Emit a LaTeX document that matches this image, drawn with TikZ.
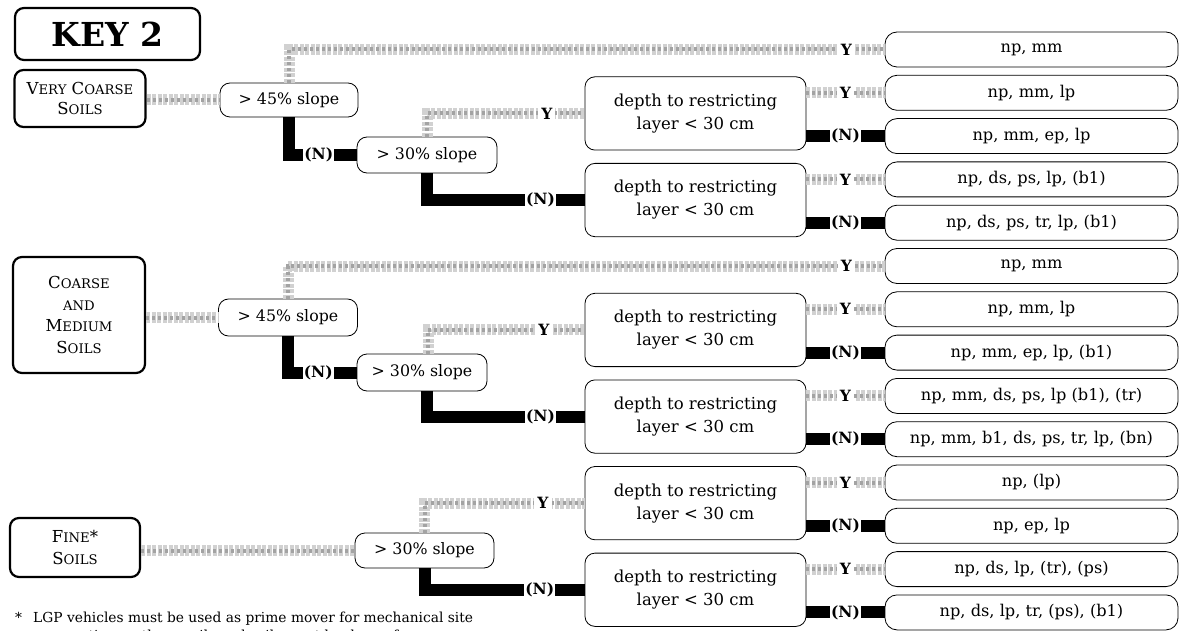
\documentclass[tikz,border=0pt]{standalone}
\usepackage{fontspec}
\setmainfont{DejaVu Serif}
\usetikzlibrary{calc}
\newcommand\smc[1]{{\fontsize{13.2}{13}\selectfont #1}}
\begin{document}
\begin{tikzpicture}[x=1pt,y=-1pt,
  soilbox/.style={draw, line width=2.2pt, rounded corners=9pt, align=center, inner sep=0pt},
  qbox/.style={draw, line width=0.8pt, rounded corners=10pt, align=center, inner sep=0pt, font=\fontsize{15.8}{23}\selectfont},
  depthbox/.style={qbox, minimum width=221pt, minimum height=73.3pt, font=\fontsize{16.5}{23}\selectfont},
  resbox/.style={draw, line width=0.8pt, rounded corners=12pt, minimum width=293pt, minimum height=35pt, inner sep=0pt, font=\fontsize{16.2}{18}\selectfont},
  yes/.style={line width=11pt, draw=black!18, dash pattern=on 4pt off 1.5pt,
     postaction={draw=black!36, line width=4pt, dash pattern=on 3pt off 3pt}},
  no/.style={line width=12pt, draw=black},
  ylab/.style={fill=white, inner xsep=3pt, inner ysep=1pt, font=\bfseries\fontsize{15.5}{15}\selectfont},
  nlab/.style={fill=white, inner xsep=1pt, inner ysep=1pt, font=\bfseries\fontsize{15.5}{15}\selectfont},
  notetext/.style={anchor=base west, inner sep=0pt, font=\fontsize{13.8}{16}\selectfont},
]
\useasboundingbox (0,0) rectangle (1183,631);

% left column
\node[soilbox, minimum width=185pt, minimum height=52pt, font=\bfseries\fontsize{33}{33}\selectfont] (key) at (107.5,34) {KEY 2};
\node[soilbox, minimum width=131pt, minimum height=57pt, font=\fontsize{16.5}{20}\selectfont] (vc) at (80,98.5) {V\smc{ERY} C\smc{OARSE}\\S\smc{OILS}};
\node[soilbox, minimum width=132pt, minimum height=116pt, font=\fontsize{16.5}{21.7}\selectfont] (cm) at (79,315) {C\smc{OARSE}\\\smc{AND}\\M\smc{EDIUM}\\S\smc{OILS}};
\node[soilbox, minimum width=130pt, minimum height=59pt, font=\fontsize{16.5}{21.7}\selectfont] (fine) at (75,547.5) {F\smc{INE}*\\S\smc{OILS}};

% slope boxes
\node[qbox, minimum width=138pt, minimum height=34pt] (vc45) at (289,100) {> 45\% slope};
\node[qbox, minimum width=140pt, minimum height=36pt] (vc30) at (427,155) {> 30\% slope};
\node[qbox, minimum width=139pt, minimum height=37pt] (cm45) at (288,317.5) {> 45\% slope};
\node[qbox, minimum width=130pt, minimum height=37pt] (cm30) at (422,372.5) {> 30\% slope};
\node[qbox, minimum width=139pt, minimum height=35pt] (fine30) at (424.5,550.5) {> 30\% slope};

% depth boxes
\node[depthbox] (vcd1) at (695.5,113.45) {depth to restricting\\layer < 30 cm};
\node[depthbox] (vcd2) at (695.5,200.05) {depth to restricting\\layer < 30 cm};
\node[depthbox] (cmd1) at (695.5,329.95) {depth to restricting\\layer < 30 cm};
\node[depthbox] (cmd2) at (695.5,416.55) {depth to restricting\\layer < 30 cm};
\node[depthbox] (fd1) at (695.5,503.15) {depth to restricting\\layer < 30 cm};
\node[depthbox] (fd2) at (695.5,589.75) {depth to restricting\\layer < 30 cm};

% result boxes
\node[resbox] (r0) at (1031.5,49.5) {np, mm};
\node[resbox] (r1) at (1031.5,92.8) {np, mm, lp};
\node[resbox] (r2) at (1031.5,136.1) {np, mm, ep, lp};
\node[resbox] (r3) at (1031.5,179.4) {np, ds, ps, lp, (b1)};
\node[resbox] (r4) at (1031.5,222.7) {np, ds, ps, tr, lp, (b1)};
\node[resbox] (r5) at (1031.5,266.0) {np, mm};
\node[resbox] (r6) at (1031.5,309.3) {np, mm, lp};
\node[resbox] (r7) at (1031.5,352.6) {np, mm, ep, lp, (b1)};
\node[resbox] (r8) at (1031.5,395.9) {np, mm, ds, ps, lp (b1), (tr)};
\node[resbox] (r9) at (1031.5,439.2) {np, mm, b1, ds, ps, tr, lp, (bn)};
\node[resbox] (r10) at (1031.5,482.5) {np, (lp)};
\node[resbox] (r11) at (1031.5,525.8) {np, ep, lp};
\node[resbox] (r12) at (1031.5,569.1) {np, ds, lp, (tr), (ps)};
\node[resbox] (r13) at (1031.5,612.4) {np, ds, lp, tr, (ps), (b1)};

% footnote
\node[notetext] (star) at (15,622) {*};
\node[notetext] (note1) at (33,622) {LGP vehicles must be used as prime mover for mechanical site};
\node[notetext] (note2) at (33,640) {preparation on these soils and soils must be dry or frozen.};

% very coarse connectors
\draw[yes] (vc45.west -| vc.east) -- (vc45.west);
\draw[yes] (vc45.north) |- node[ylab, pos=0.968]{Y} (r0.west);
\draw[no] (vc45.south) |- node[nlab, pos=0.72]{(N)} (vc30.west);
\draw[yes] (vc30.north) |- node[ylab, pos=0.88]{Y} (vcd1.west);
\draw[no] (vc30.south) |- node[nlab, pos=0.86]{(N)} (vcd2.west);
\draw[yes] (vcd1.east |- r1.west) -- node[ylab]{Y} (r1.west);
\draw[no] (vcd1.east |- r2.west) -- node[nlab]{(N)} (r2.west);
\draw[yes] (vcd2.east |- r3.west) -- node[ylab]{Y} (r3.west);
\draw[no] (vcd2.east |- r4.west) -- node[nlab]{(N)} (r4.west);

% coarse and medium connectors
\draw[yes] (cm45.west -| cm.east) -- (cm45.west);
\draw[yes] (cm45.north) |- node[ylab, pos=0.968]{Y} (r5.west);
\draw[no] (cm45.south) |- node[nlab, pos=0.72]{(N)} (cm30.west);
\draw[yes] ([xshift=6pt]cm30.north) |- node[ylab, pos=0.87]{Y} (cmd1.west);
\draw[no] ([xshift=5pt]cm30.south) |- node[nlab, pos=0.86]{(N)} (cmd2.west);
\draw[yes] (cmd1.east |- r6.west) -- node[ylab]{Y} (r6.west);
\draw[no] (cmd1.east |- r7.west) -- node[nlab]{(N)} (r7.west);
\draw[yes] (cmd2.east |- r8.west) -- node[ylab]{Y} (r8.west);
\draw[no] (cmd2.east |- r9.west) -- node[nlab]{(N)} (r9.west);

% fine connectors
\draw[yes] (fine30.west -| fine.east) -- (fine30.west);
\draw[yes] (fine30.north) |- node[ylab, pos=0.87]{Y} (fd1.west);
\draw[no] (fine30.south) |- node[nlab, pos=0.86]{(N)} (fd2.west);
\draw[yes] (fd1.east |- r10.west) -- node[ylab]{Y} (r10.west);
\draw[no] (fd1.east |- r11.west) -- node[nlab]{(N)} (r11.west);
\draw[yes] (fd2.east |- r12.west) -- node[ylab]{Y} (r12.west);
\draw[no] (fd2.east |- r13.west) -- node[nlab]{(N)} (r13.west);
\end{tikzpicture}
\end{document}
